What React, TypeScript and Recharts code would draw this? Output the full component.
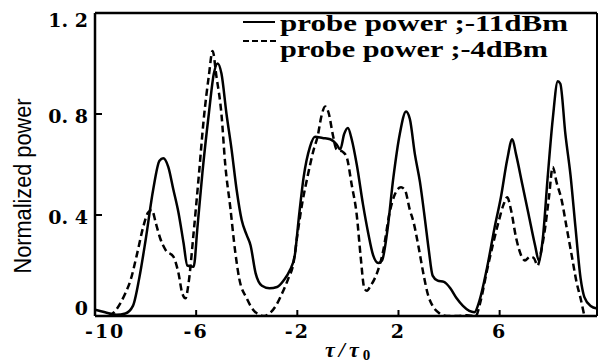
import { LineChart, Line, XAxis, YAxis, Legend } from 'recharts';

// tau / tau0 sample positions and normalized power
const solidTau = [
  -10, -9.6, -9.15, -8.8, -8.5, -8.25, -8.0, -7.7, -7.45, -7.3, -7.1, -6.9, -6.7, -6.5, -6.35, -6.1,
  -5.95, -5.75, -5.5, -5.3, -5.15, -5.0, -4.8, -4.6, -4.4, -4.2, -4.0, -3.85, -3.65, -3.4, -3.1, -2.8,
  -2.55, -2.3, -2.1, -1.95, -1.75, -1.5, -1.3, -1.0, -0.7, -0.45, -0.3, -0.15, 0.0, 0.15, 0.35, 0.6,
  0.8, 1.0, 1.2, 1.35, 1.55, 1.8, 2.05, 2.3, 2.45, 2.65, 2.85, 3.05, 3.2, 3.35, 3.55, 3.8, 4.05, 4.3,
  4.55, 4.8, 5.0, 5.2, 5.5, 5.8, 6.05, 6.3, 6.5, 6.65, 6.9, 7.15, 7.4, 7.55, 7.7, 7.9, 8.1, 8.3, 8.4,
  8.6, 8.8, 9.0, 9.2, 9.35, 9.6, 9.85,
];
const solidPower = [
  0.025, 0.015, 0.005, 0.01, 0.04, 0.15, 0.3, 0.5, 0.615, 0.625, 0.59, 0.5, 0.41, 0.29, 0.2, 0.195,
  0.35, 0.57, 0.8, 0.96, 1.0, 0.96, 0.8, 0.66, 0.5, 0.38, 0.32, 0.28, 0.17, 0.12, 0.11, 0.115,
  0.14, 0.18, 0.24, 0.38, 0.55, 0.67, 0.71, 0.705, 0.7, 0.68, 0.66, 0.72, 0.745, 0.7, 0.6, 0.44,
  0.33, 0.24, 0.21, 0.22, 0.33, 0.55, 0.72, 0.81, 0.78, 0.64, 0.53, 0.38, 0.26, 0.16, 0.14, 0.135, 0.11, 0.07,
  0.04, 0.02, 0.015, 0.06, 0.19, 0.35, 0.47, 0.62, 0.7, 0.64, 0.52, 0.4, 0.28, 0.22, 0.3, 0.55, 0.78, 0.93, 0.92,
  0.72, 0.56, 0.35, 0.15, 0.075, 0.04, 0.03,
];

const dashedTau = [
  -9.45, -9.2, -9.0, -8.8, -8.6, -8.35, -8.1, -7.9, -7.75, -7.6, -7.43, -7.2, -6.9, -6.7, -6.55, -6.42,
  -6.3, -6.1, -5.9, -5.7, -5.5, -5.35, -5.2, -5.0, -4.85, -4.65, -4.45, -4.3, -4.0, -3.75, -3.5, -3.3,
  -3.1, -2.85, -2.6, -2.35, -2.15, -2.0, -1.8, -1.6, -1.35, -1.2, -1.05, -0.9, -0.75, -0.6, -0.45, -0.2,
  -0.05, 0.15, 0.35, 0.5, 0.65, 0.75, 0.9, 1.15, 1.4, 1.65, 1.85, 2.1, 2.25, 2.45, 2.6, 2.8, 3.0, 3.15,
  3.35, 3.6, 3.9, 4.3, 4.7, 5.05, 5.25, 5.5, 5.75, 5.95, 6.15, 6.3, 6.45, 6.65, 6.85, 7.0, 7.2, 7.35,
  7.5, 7.65, 7.8, 7.95, 8.1, 8.25, 8.45, 8.65, 8.85, 9.05, 9.2, 9.35,
];
const dashedPower = [
  0.0, 0.02, 0.05, 0.09, 0.14, 0.24, 0.35, 0.41, 0.42, 0.37, 0.31, 0.26, 0.235, 0.17, 0.09, 0.07,
  0.13, 0.33, 0.55, 0.78, 0.95, 1.05, 0.95, 0.8, 0.6, 0.43, 0.25, 0.15, 0.07, 0.025, 0.005, 0.0,
  0.01, 0.04, 0.09, 0.15, 0.21, 0.32, 0.45, 0.55, 0.66, 0.71, 0.79, 0.83, 0.8, 0.72, 0.66, 0.65,
  0.63, 0.52, 0.4, 0.24, 0.11, 0.1, 0.12, 0.17, 0.26, 0.41, 0.48, 0.51, 0.5, 0.42, 0.37, 0.27, 0.16, 0.09,
  0.04, 0.012, 0.0, 0.0, 0.003, 0.0, 0.06, 0.18, 0.29, 0.37, 0.44, 0.47, 0.42, 0.31, 0.24, 0.22, 0.235, 0.23,
  0.2, 0.26, 0.35, 0.47, 0.59, 0.53, 0.46, 0.35, 0.24, 0.13, 0.07, 0.0,
];

const xTicks = [-10, -6, -2, 2, 6];
const yTicks = [0, 0.4, 0.8, 1.2];
const seriesNames = ['probe power ;-11dBm', 'probe power ;-4dBm'];

const solidData = solidTau.map((t, i) => ({ t, p: solidPower[i] }));
const dashedData = dashedTau.map((t, i) => ({ t, p: dashedPower[i] }));

const serif = '"DejaVu Serif", "Liberation Serif", serif';

function XTick(props: any) {
  const { x, y, payload, index } = props;
  const first = index === 0;
  return (
    <g>
      <line x1={x} y1={y} x2={x} y2={y - 6} stroke="#000" strokeWidth={2} />
      <text
        x={first ? x - 10 : x}
        y={y + 22}
        textAnchor={first ? 'start' : 'middle'}
        fontFamily={serif}
        fontWeight={700}
        fontSize={19}
        letterSpacing={2}
        fill="#000"
      >
        {payload.value}
      </text>
    </g>
  );
}

function YTick(props: any) {
  const { x, y, payload } = props;
  const label = payload.value === 0 ? '0' : payload.value.toFixed(1).replace('.', '. ');
  const ty = Math.min(Math.max(y + 9, 27), 315);
  return (
    <g>
      <line x1={x} y1={y} x2={x + 7} y2={y} stroke="#000" strokeWidth={2} />
      <text x={x - 7} y={ty} textAnchor="end" fontFamily={serif} fontWeight={700} fontSize={19} fill="#000">
        {label}
      </text>
    </g>
  );
}

function LegendBox() {
  return (
    <svg width={598} height={70} style={{ display: 'block' }}>
      <line x1={243} y1={22} x2={275} y2={22} stroke="#000" strokeWidth={2} />
      <line x1={243} y1={41} x2={277} y2={41} stroke="#000" strokeWidth={2} strokeDasharray="6 3" />
      <text
        x={280}
        y={31}
        fontFamily='"Liberation Serif", serif'
        fontWeight={700}
        fontSize={23}
        textLength={288}
        lengthAdjust="spacingAndGlyphs"
        fill="#000"
      >
        {seriesNames[0]}
      </text>
      <text
        x={280}
        y={57}
        fontFamily='"Liberation Serif", serif'
        fontWeight={700}
        fontSize={23}
        textLength={268}
        lengthAdjust="spacingAndGlyphs"
        fill="#000"
      >
        {seriesNames[1]}
      </text>
    </svg>
  );
}

export default function App() {
  return (
    <div style={{ position: 'absolute', top: 0, left: 0, width: 598, height: 362, background: '#fff' }}>
      <LineChart width={598} height={362} data={solidData} margin={{ top: 12, right: 0, left: 0, bottom: 0 }}>
        <XAxis
          dataKey="t"
          type="number"
          domain={[-10, 9.85]}
          ticks={xTicks}
          height={46}
          tickSize={0}
          tickMargin={0}
          tick={<XTick />}
          axisLine={{ stroke: '#000', strokeWidth: 2.5 }}
          allowDataOverflow
        />
        <XAxis
          xAxisId="top"
          orientation="top"
          type="number"
          domain={[-10, 9.85]}
          height={1}
          tick={false}
          tickLine={false}
          axisLine={{ stroke: '#000', strokeWidth: 2.5 }}
        />
        <YAxis
          type="number"
          domain={[0, 1.2]}
          ticks={yTicks}
          width={95}
          tickSize={0}
          tickMargin={0}
          tick={<YTick />}
          axisLine={{ stroke: '#000', strokeWidth: 2.5 }}
          allowDataOverflow
          label={{
            value: 'Normalized power',
            angle: -90,
            position: 'insideLeft',
            content: () => (
              <text
                x={0}
                y={0}
                transform="translate(31,186) rotate(-90)"
                textAnchor="middle"
                fontFamily='"Liberation Sans", Arial, sans-serif'
                fontSize={23}
                textLength={175}
                lengthAdjust="spacingAndGlyphs"
                fill="#000"
              >
                Normalized power
              </text>
            ),
          }}
        />
        <YAxis
          yAxisId="right"
          orientation="right"
          type="number"
          domain={[0, 1.2]}
          width={1}
          tick={false}
          tickLine={false}
          axisLine={{ stroke: '#000', strokeWidth: 2 }}
        />
        <Legend
          layout="horizontal"
          verticalAlign="middle"
          align="center"
          wrapperStyle={{ position: 'absolute', top: 0, left: 0, width: 598, height: 70 }}
          content={() => <LegendBox />}
        />
        <Line
          data={dashedData}
          dataKey="p"
          type="monotone"
          stroke="#000"
          strokeWidth={2.5}
          strokeDasharray="7 4"
          dot={false}
          isAnimationActive={false}
        />
        <Line
          data={solidData}
          dataKey="p"
          type="monotone"
          stroke="#000"
          strokeWidth={2.5}
          dot={false}
          isAnimationActive={false}
        />
        <text x={325} y={357} fontFamily='"Liberation Serif", serif' fontWeight={700} fontSize={22} fill="#000">
          <tspan fontStyle="italic" letterSpacing={4}>τ/τ</tspan>
          <tspan fontSize={15} dy={3}>0</tspan>
        </text>
      </LineChart>
    </div>
  );
}
